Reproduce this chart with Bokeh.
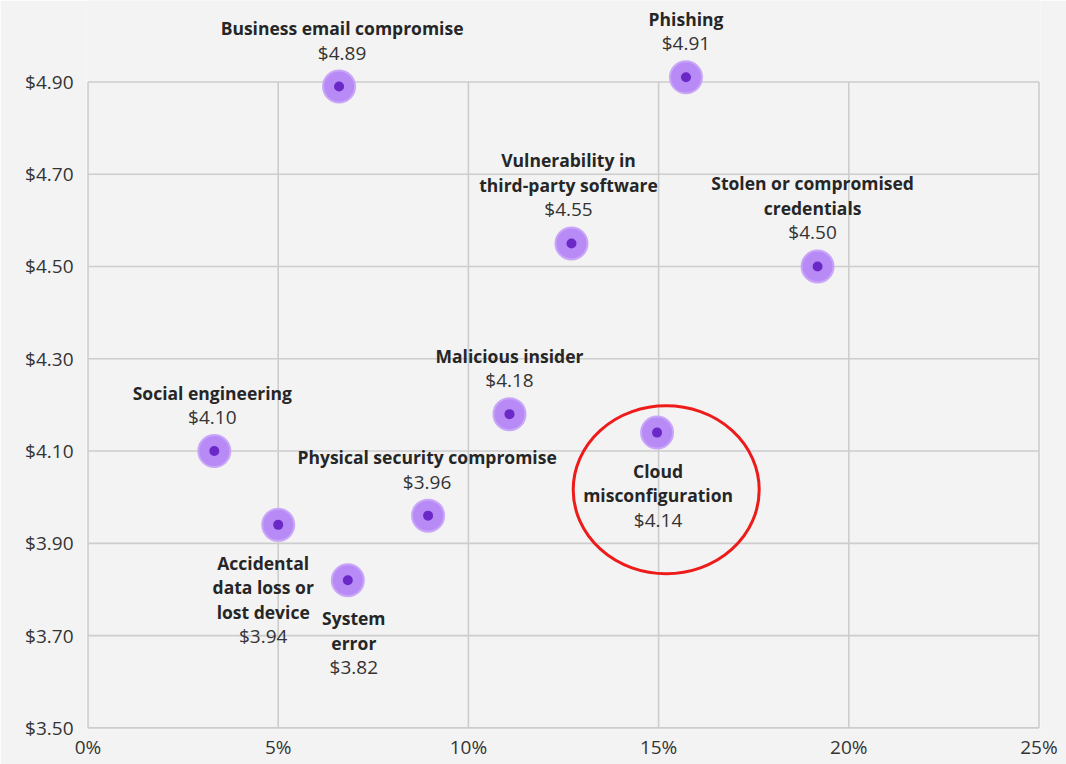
from bokeh.plotting import figure
from bokeh.models import Range1d, FixedTicker, ColumnDataSource
from bokeh.embed import file_html
from bokeh.resources import INLINE
from bokeh.core.properties import value

# ---------------- data ----------------
categories = [
    "Business email compromise",
    "Phishing",
    "Vulnerability in\nthird-party software",
    "Stolen or compromised\ncredentials",
    "Malicious insider",
    "Cloud\nmisconfiguration",
    "Social engineering",
    "Physical security compromise",
    "Accidental\ndata loss or\nlost device",
    "System\nerror",
]
frequency_pct = [6.60, 15.72, 12.71, 19.18, 11.08, 14.96, 3.32, 8.94, 5.00, 6.83]
avg_cost_musd = [4.89, 4.91, 4.55, 4.50, 4.18, 4.14, 4.10, 3.96, 3.94, 3.82]

x_ticks = [0, 5, 10, 15, 20, 25]
x_tick_labels = ["0%", "5%", "10%", "15%", "20%", "25%"]
y_ticks = [3.5, 3.7, 3.9, 4.1, 4.3, 4.5, 4.7, 4.9]
y_tick_labels = ["$3.50", "$3.70", "$3.90", "$4.10", "$4.30", "$4.50", "$4.70", "$4.90"]

highlighted = "Cloud\nmisconfiguration"

# ---------------- layout (not data) ----------------
label_side = ["above", "above", "above", "above", "above",
              "below", "above", "above", "below", "below"]
label_dx = [3, 0, -3, -5, 0, 1, -2, -1, -15, 6]
LINE = 24.5
ABOVE_VALUE = -34
BELOW_FIRST = 38

FONT = "Open Sans"
BG = "#f3f3f3"
GRID = "#cdcdcd"
TEXT = "#262626"

W, H = 1066, 764
p = figure(width=W, height=H, output_backend="svg", toolbar_location=None,
           x_range=Range1d(-0.04, 25.04), y_range=Range1d(3.4965, 5.0765),
           min_border_left=86, min_border_right=26, min_border_top=0,
           min_border_bottom=35)
p.background_fill_color = BG
p.border_fill_color = BG
p.outline_line_color = None
p.grid.visible = False

# axes
p.xaxis.ticker = FixedTicker(ticks=x_ticks)
p.yaxis.ticker = FixedTicker(ticks=y_ticks)
p.xaxis.major_label_overrides = {t: l for t, l in zip(x_ticks, x_tick_labels)}
p.yaxis.major_label_overrides = {t: l for t, l in zip(y_ticks, y_tick_labels)}
for ax in (p.xaxis, p.yaxis):
    ax.axis_line_color = None
    ax.major_tick_line_color = None
    ax.minor_tick_line_color = None
    ax.major_tick_out = 0
    ax.major_tick_in = 0
    ax.minor_tick_out = 0
    ax.major_label_text_font = FONT
    ax.major_label_text_font_size = "19px"
    ax.major_label_text_color = "#333333"
p.yaxis.major_label_standoff = 13
p.xaxis.major_label_standoff = 4

# gridlines, bounded by the tick extents
p.segment(x0=x_ticks, x1=x_ticks, y0=[y_ticks[0]] * len(x_ticks),
          y1=[y_ticks[-1]] * len(x_ticks), line_color=GRID, line_width=1.6)
p.segment(x0=[x_ticks[0]] * len(y_ticks), x1=[x_ticks[-1]] * len(y_ticks),
          y0=y_ticks, y1=y_ticks, line_color=GRID, line_width=1.6)

# points
src = ColumnDataSource(dict(x=frequency_pct, y=avg_cost_musd))
p.scatter("x", "y", source=src, size=32, fill_color="#b78af6",
          line_color="#c9a6f8", line_width=2)
p.scatter("x", "y", source=src, size=10, fill_color="#6a28c6", line_color=None)

# labels
nx, ny, ntext, ndx, ndy = [], [], [], [], []
vx, vy, vtext, vdx, vdy = [], [], [], [], []
for name, xv, yv, side, dx in zip(categories, frequency_pct, avg_cost_musd,
                                  label_side, label_dx):
    lines = name.split("\n")
    n = len(lines)
    if side == "above":
        v_off = ABOVE_VALUE
        offs = [ABOVE_VALUE - LINE * (n - k) for k in range(n)]
    else:
        offs = [BELOW_FIRST + LINE * k for k in range(n)]
        v_off = BELOW_FIRST + LINE * n
    for ln, o in zip(lines, offs):
        nx.append(xv); ny.append(yv); ntext.append(ln); ndx.append(dx); ndy.append(o)
    vx.append(xv); vy.append(yv); vtext.append(f"${yv:.2f}"); vdx.append(dx); vdy.append(v_off)

p.text(x="x", y="y", text="t", x_offset="dx", y_offset="dy",
       source=ColumnDataSource(dict(x=nx, y=ny, t=ntext, dx=ndx, dy=ndy)),
       text_font=value(FONT), text_font_size="17.5px", text_font_style="bold",
       text_color=TEXT, text_align="center", text_baseline="middle")
p.text(x="x", y="y", text="t", x_offset="dx", y_offset="dy",
       source=ColumnDataSource(dict(x=vx, y=vy, t=vtext, dx=vdx, dy=vdy)),
       text_font=value(FONT), text_font_size="19px",
       text_color="#333333", text_align="center", text_baseline="middle")

# highlight ellipse around the highlighted category
hi = categories.index(highlighted)
p.ellipse(x=[frequency_pct[hi] + 0.24], y=[avg_cost_musd[hi] - 0.124],
          width=186, height=168, width_units="screen", height_units="screen",
          fill_color=None, line_color="#ee1b1b", line_width=3)

open("out.html", "w").write(file_html(p, INLINE))
